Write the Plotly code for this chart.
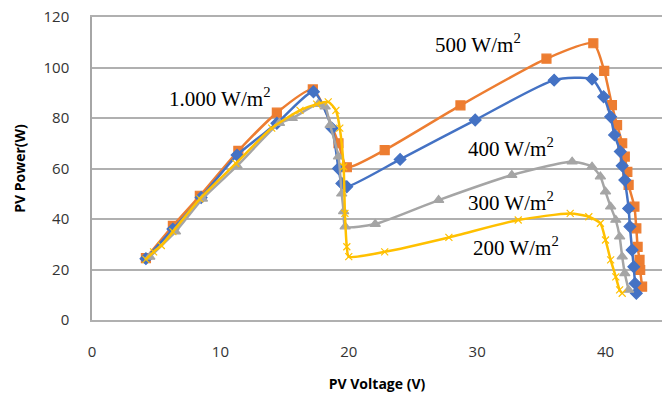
import plotly.graph_objects as go

# 500 W/m2 (orange squares)
v500 = [4.2, 6.3, 8.4, 11.4, 14.4, 17.2, 19.2, 19.85, 22.8, 28.7, 35.4, 39.05, 39.9, 40.5,
        40.9, 41.3, 41.5, 41.7, 41.8, 42.25, 42.4, 42.5, 42.65, 42.7, 42.85]
p500 = [24.5, 37.3, 49.2, 67.0, 82.1, 91.3, 70.0, 60.5, 67.3, 85.0, 103.5, 109.6, 98.7, 85.1,
        77.2, 70.0, 64.7, 58.7, 53.5, 44.9, 36.3, 29.0, 23.8, 19.8, 13.2]

# 400 W/m2 (blue diamonds)
v400 = [4.2, 6.3, 8.5, 11.3, 14.4, 17.25, 18.7, 19.2, 19.46, 19.85, 24.0, 29.85, 36.0, 38.95,
        39.85, 40.4, 40.7, 41.15, 41.3, 41.5, 41.8, 41.9, 42.07, 42.2, 42.3, 42.4]
p400 = [24.3, 36.0, 48.5, 65.3, 77.9, 90.4, 75.9, 60.0, 54.1, 52.8, 63.6, 79.2, 95.0, 95.4,
        88.4, 80.5, 73.3, 66.7, 61.1, 55.4, 44.2, 37.0, 27.7, 21.1, 14.5, 10.6]

# 300 W/m2 (gray triangles)
v300 = [4.5, 6.5, 8.6, 11.3, 14.6, 15.6, 17.6, 18.16, 18.55, 19.2, 19.45, 19.6, 19.72,
        22.06, 27.0, 32.7, 37.4, 38.95, 39.6, 40.0, 40.4, 40.8, 41.1, 41.3, 41.5, 41.8]
p300 = [25.0, 35.0, 48.0, 61.0, 78.0, 79.9, 85.5, 84.5, 77.2, 64.7, 50.0, 43.0, 37.0,
        38.0, 47.5, 57.4, 62.7, 60.7, 56.8, 50.8, 44.9, 39.6, 33.0, 25.1, 18.5, 11.9]

# 200 W/m2 (yellow crosses)
v200 = [4.2, 4.8, 5.4, 6.3, 8.4, 11.2, 14.0, 16.2, 17.5, 18.4, 19.0, 19.3, 19.6, 19.7, 19.85,
        20.0, 22.8, 27.8, 33.2, 37.25, 38.7, 39.6, 40.0, 40.4, 40.8, 41.1, 41.3]
p200 = [24.0, 27.0, 29.5, 35.0, 48.0, 62.0, 76.0, 83.0, 85.5, 86.4, 83.0, 76.0, 60.7, 42.2, 29.0,
        25.1, 27.0, 32.7, 39.6, 42.2, 40.9, 38.3, 31.7, 23.8, 17.1, 11.9, 10.6]

labels = ["1.000 W/m<sup>2</sup>", "500 W/m<sup>2</sup>", "400 W/m<sup>2</sup>",
          "300 W/m<sup>2</sup>", "200 W/m<sup>2</sup>"]
label_x = [9.9, 30.1, 32.6, 32.6, 33.0]
label_y = [88.3, 109.7, 68.5, 46.9, 29.0]

fig = go.Figure()

series = [
    (v500, p500, "#ED7D31", "square", 9, "500 W/m2"),
    (v400, p400, "#4472C4", "diamond", 9, "400 W/m2"),
    (v300, p300, "#A5A5A5", "triangle-up", 9, "300 W/m2"),
    (v200, p200, "#FFC000", "x-thin", 7, "200 W/m2"),
]
for xs, ys, col, sym, sz, name in series:
    fig.add_trace(go.Scatter(
        x=xs, y=ys, name=name, mode="lines+markers",
        line=dict(color=col, width=2.5, shape="spline", smoothing=0.6),
        marker=dict(color=col, symbol=sym, size=sz, line=dict(color=col, width=1.2)),
    ))

for t, x, y in zip(labels, label_x, label_y):
    fig.add_annotation(x=x, y=y, text=t, showarrow=False,
                       font=dict(family="Liberation Serif", size=21, color="black"))

fig.update_layout(
    width=662, height=403,
    margin=dict(l=92, r=0, t=17, b=83),
    plot_bgcolor="white", paper_bgcolor="white",
    showlegend=False,
    font=dict(family="Open Sans", color="#404040"),
)
# mirrored x line stands in for the top (120) gridline
fig.update_xaxes(
    range=[0, 44.4], dtick=10, tick0=0, showgrid=False, zeroline=False, automargin=False,
    showline=True, mirror=True, linecolor="#B0B0B0", linewidth=1.5,
    ticklabelstandoff=17, tickfont=dict(size=15, color="#333333"),
    title=dict(text="<b>PV Voltage (V)</b>", font=dict(size=14, color="black"), standoff=19),
)
fig.update_yaxes(
    range=[0, 120], tickvals=[0, 20, 40, 60, 80, 100, 120],
    showgrid=True, gridcolor="#B0B0B0", gridwidth=1.5, ticklabeloverflow="allow",
    zeroline=False, showline=True, linecolor="#A6A6A6", linewidth=1.5, automargin=False,
    ticklabelstandoff=18, tickfont=dict(size=15, color="#333333"),
    title=dict(text="<b>PV Power(W)</b>", font=dict(size=14, color="black"), standoff=15),
)

# drop the default 8px page margin so the figure sits at the window corner
fig.write_html("out.html", config={"displayModeBar": False},
               post_script="document.body.style.margin = '0';")
